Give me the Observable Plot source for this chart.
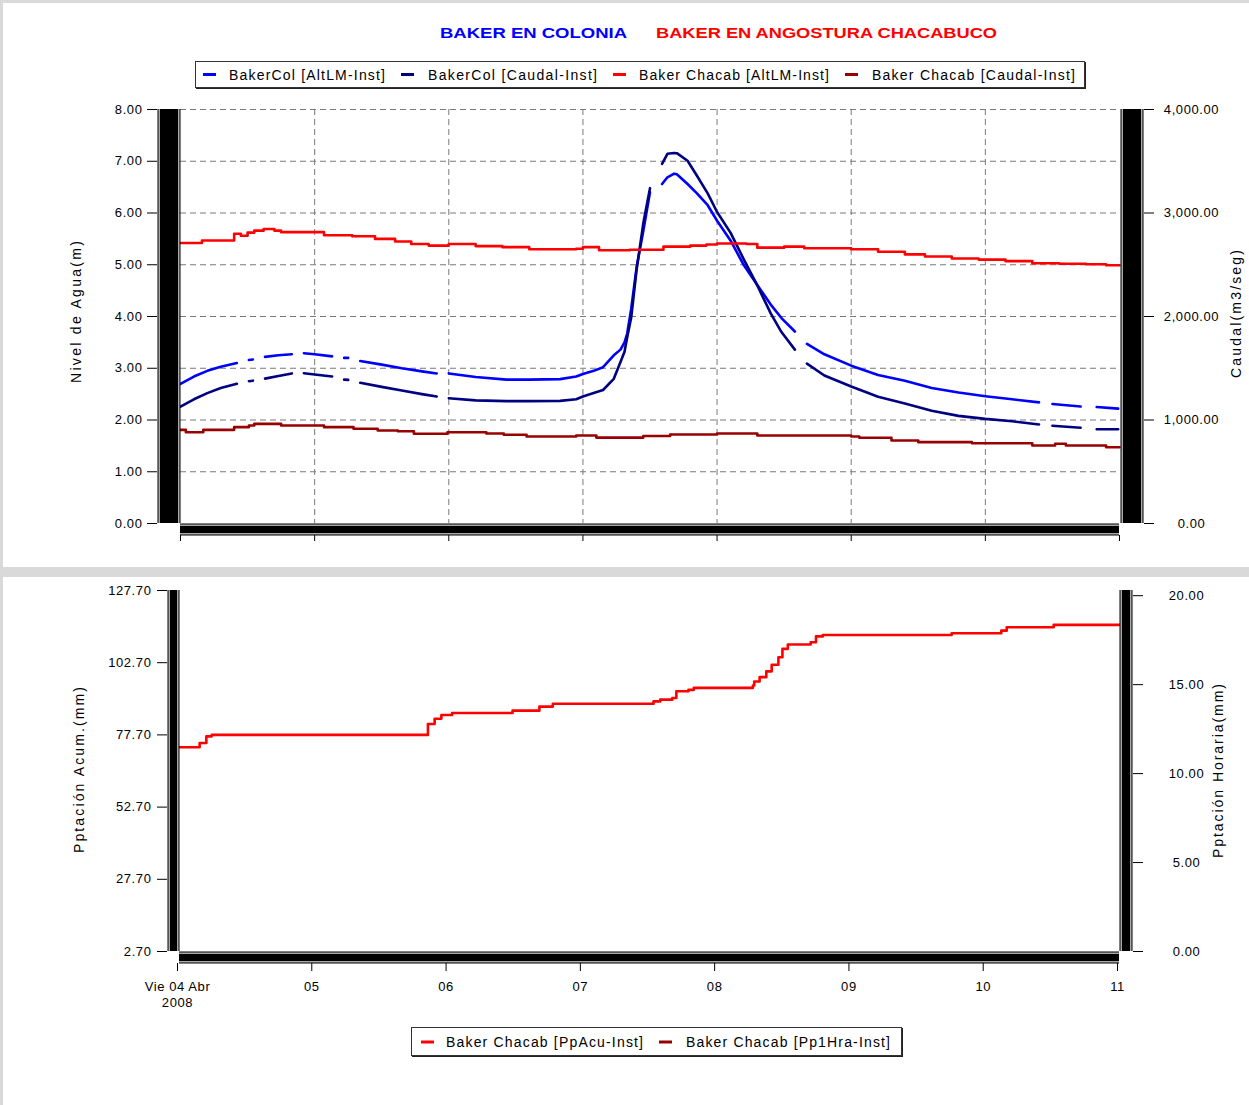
<!DOCTYPE html>
<html>
<head>
<meta charset="utf-8">
<script src="https://cdn.jsdelivr.net/npm/d3@7"></script>
<script src="https://cdn.jsdelivr.net/npm/@observablehq/plot@0.6"></script>
<style>
  body { margin: 0; background: #fff; }
  #page { position: relative; width: 1249px; height: 1105px; background: #fff; overflow: hidden; font-family: "Liberation Sans", Arial, sans-serif; }
  #topChart { position: absolute; left: 0; top: 0; }
  #botwrap { position: absolute; left: 0; top: 582px; width: 1249px; height: 445px; overflow: hidden; }
  #botChart { margin-top: -5px; }
  .band { position: absolute; background: #d9d9d9; }
  #overlay { position: absolute; left: 0; top: 0; pointer-events: none; }
</style>
</head>
<body>
<div id="page">
  <div id="topChart"></div>
  <div id="botwrap"><div id="botChart"></div></div>
  <div class="band" style="left:0;top:0;width:1249px;height:3px"></div>
  <div class="band" style="left:0;top:0;width:3px;height:1105px"></div>
  <div class="band" style="left:0;top:567px;width:1249px;height:10px"></div>
  <svg id="overlay" width="1249" height="1105"></svg>
</div>
<script>
// ---------- DATA (time in days since Vie 04 Abr 2008 00:00) ----------
const days = [0, 1, 2, 3, 4, 5, 6, 7];
const dayLabels = ["Vie 04 Abr\n2008", "05", "06", "07", "08", "09", "10", "11"];
const nivelTicks = [0, 1, 2, 3, 4, 5, 6, 7, 8];
const caudalTicks = [0, 1000, 2000, 3000, 4000];
const acuTicks = [2.7, 27.7, 52.7, 77.7, 102.7, 127.7];
const horaTicks = [0, 5, 10, 15, 20];

// BakerCol (null = missing data -> gap)
const colT = [0, 0.1, 0.2, 0.3, 0.42, 0.46, 0.51, 0.54, 0.58, 0.63, 0.73, 0.83, 0.87, 0.92, 1.0, 1.13, 1.17,
  1.22, 1.25, 1.29, 1.34, 1.5, 1.65, 1.8, 1.91, 1.95, 2.0, 2.2, 2.43, 2.6, 2.83, 2.95, 3.0, 3.08, 3.15, 3.23,
  3.28, 3.31, 3.33, 3.36, 3.40, 3.45, 3.50, 3.55, 3.59, 3.63, 3.68, 3.70, 3.78, 3.85, 3.93, 4.0, 4.1, 4.2,
  4.3, 4.4, 4.48, 4.58, 4.62, 4.67, 4.8, 5.0, 5.2, 5.4, 5.6, 5.8, 6.0, 6.2, 6.4, 6.45, 6.5, 6.71, 6.76, 6.83, 6.99];
const colNivel = [2.70, 2.84, 2.95, 3.03, 3.10, null, 3.16, 3.17, null, 3.22, 3.25, 3.27, null, 3.29, 3.27, 3.23, null,
  3.20, 3.20, null, 3.14, 3.07, 3.00, 2.94, 2.90, null, 2.90, 2.83, 2.78, 2.78, 2.79, 2.84, 2.89, 2.95, 3.02, 3.25,
  3.36, 3.50, 3.67, 4.15, 4.95, 5.65, 6.40, null, 6.56, 6.69, 6.76, 6.75, 6.56, 6.38, 6.15, 5.85, 5.47, 4.99,
  4.61, 4.23, 3.97, 3.71, null, 3.47, 3.27, 3.05, 2.87, 2.76, 2.62, 2.53, 2.46, 2.40, 2.34, null, 2.31, 2.26, null, 2.25, 2.22];
const colCaudal = [1130, 1200, 1260, 1310, 1350, null, 1375, 1380, null, 1400, 1425, 1450, null, 1452, 1440, 1420, null,
  1390, 1388, null, 1360, 1320, 1285, 1250, 1227, null, 1210, 1190, 1182, 1182, 1185, 1200, 1227, 1260, 1290, 1398,
  1560, 1660, 1800, 1990, 2450, 2900, 3240, null, 3475, 3572, 3580, 3578, 3505, 3360, 3190, 3010, 2810, 2550,
  2300, 2030, 1850, 1680, null, 1545, 1430, 1324, 1225, 1160, 1090, 1040, 1011, 988, 957, null, 944, 925, null, 911, 911];

// Baker Chacab
const chacNivT = [0, 0.16, 0.40, 0.45, 0.50, 0.55, 0.62, 0.70, 0.75, 1.07, 1.28, 1.45, 1.60, 1.72, 1.85, 2.0, 2.2, 2.4,
  2.6, 2.95, 3.0, 3.12, 3.35, 3.6, 3.8, 3.92, 4.0, 4.22, 4.3, 4.5, 4.65, 5.0, 5.2, 5.4, 5.55, 5.75, 5.95, 6.15,
  6.35, 6.55, 6.75, 6.9, 7.0];
const chacNivel = [5.42, 5.47, 5.60, 5.56, 5.62, 5.66, 5.69, 5.66, 5.63, 5.57, 5.55, 5.50, 5.45, 5.40, 5.37, 5.40, 5.36, 5.34,
  5.30, 5.31, 5.34, 5.28, 5.29, 5.35, 5.37, 5.39, 5.41, 5.40, 5.33, 5.35, 5.32, 5.30, 5.25, 5.20, 5.16, 5.12, 5.10, 5.07,
  5.03, 5.02, 5.01, 4.99, 4.99];
const chacCauT = [0, 0.04, 0.17, 0.40, 0.51, 0.55, 0.75, 1.07, 1.29, 1.47, 1.62, 1.74, 1.99, 2.28, 2.41, 2.58, 2.95, 3.1,
  3.45, 3.65, 4.0, 4.3, 5.0, 5.06, 5.3, 5.5, 5.9, 6.35, 6.52, 6.6, 6.9, 7.0];
const chacCaudal = [905, 882, 905, 931, 947, 963, 947, 931, 915, 899, 892, 867, 882, 870, 857, 841, 850, 830,
  845, 860, 870, 850, 841, 828, 802, 786, 776, 754, 770, 754, 737, 737];

// Precipitation (accumulated)
const ppT = [0, 0.15, 0.20, 0.24, 1.85, 1.90, 1.95, 2.03, 2.48, 2.68, 2.78, 3.53, 3.58, 3.67, 3.70, 3.79, 3.83, 4.27,
  4.28, 4.32, 4.37, 4.41, 4.46, 4.49, 4.53, 4.70, 4.74, 4.79, 5.75, 6.12, 6.16, 6.51, 7.0];
const ppAcu = [73.4, 74.9, 77.2, 77.7, 81.5, 83.3, 84.6, 85.3, 86.1, 87.5, 88.5, 89.3, 89.9, 90.5, 92.8, 93.3, 94.0, 94.8,
  96.2, 97.7, 99.7, 102.0, 104.6, 107.5, 109.0, 109.8, 111.8, 112.3, 112.9, 113.8, 115.0, 115.8, 115.8];

// ---------- tables ----------
const colTable = colT.map((t, i) => ({t, nivel: colNivel[i], caudal: colCaudal[i]}));
const chacNivTable = chacNivT.map((t, i) => ({t, v: chacNivel[i]}));
const chacCauTable = chacCauT.map((t, i) => ({t, v: chacCaudal[i]}));
const ppTable = ppT.map((t, i) => ({t, v: ppAcu[i]}));

const C_BLUE = "#0000ff", C_NAVY = "#000080", C_RED = "#ff0000", C_DRED = "#990000";
const Q = 500;               // caudal units per metre on the shared scale
const H = 6.16;              // acumulada units per horaria mm
const fmt2 = d3.format(".2f"), fmtC = d3.format(",.2f");
const baseStyle = {fontFamily: "'Liberation Sans', Arial, sans-serif", fontSize: "13px", letterSpacing: "0.6px", color: "#000", background: "transparent"};
const dash = "6,4";

function bar(axis, value, range, offset, w) {
  const mk = axis === "x" ? Plot.ruleX : Plot.ruleY;
  const key1 = axis === "x" ? "y1" : "x1", key2 = axis === "x" ? "y2" : "x2";
  const off = axis === "x" ? "dx" : "dy";
  return [
    mk([value], {[key1]: range[0], [key2]: range[1], [off]: offset, strokeWidth: w, stroke: "#000"}),
    mk([value], {[key1]: range[0], [key2]: range[1], [off]: offset, strokeWidth: w - 2, stroke: "#a8a8a8"}),
    mk([value], {[key1]: range[0], [key2]: range[1], [off]: offset, strokeWidth: w - 5, stroke: "#000"})
  ];
}

const topPlot = Plot.plot({
  width: 1249, height: 567,
  marginLeft: 180, marginRight: 130, marginTop: 109, marginBottom: 44,
  x: {domain: [0, 7]},
  y: {domain: [0, 8]},
  style: baseStyle,
  marks: [
    Plot.gridY({ticks: nivelTicks.slice(1), stroke: "#7a7a7a", strokeOpacity: 1, strokeDasharray: dash}),
    Plot.gridX({ticks: days.slice(1, 7), stroke: "#7a7a7a", strokeOpacity: 1, strokeDasharray: dash}),
    Plot.line(colTable, {x: "t", y: "nivel", stroke: C_BLUE, strokeWidth: 2.6}),
    Plot.line(colTable, {x: "t", y: d => d.caudal == null ? null : d.caudal / Q, stroke: C_NAVY, strokeWidth: 2.6}),
    Plot.line(chacNivTable, {x: "t", y: "v", stroke: C_RED, strokeWidth: 2.6, curve: "step-after"}),
    Plot.line(chacCauTable, {x: "t", y: d => d.v / Q, stroke: C_DRED, strokeWidth: 2.6, curve: "step-after"}),
    ...bar("x", 0, [0, 8], -11.5, 23),
    ...bar("x", 7, [0, 8], 12.5, 23),
    ...bar("y", 0, [0, 7], 6, 12),
    Plot.axisY({anchor: "left", ticks: nivelTicks, tickFormat: fmt2, tickSize: 10, dx: -23, tickPadding: 5, label: null}),
    Plot.axisY({anchor: "right", ticks: caudalTicks.map(c => c / Q), tickFormat: d => fmtC(d * Q), tickSize: 10, dx: 24, tickPadding: 38, textAnchor: "middle", label: null}),
    Plot.axisX({ticks: days, tickFormat: () => "", tickSize: 6, dy: 12, label: null})
  ]
});
document.getElementById("topChart").appendChild(topPlot);

const botPlot = Plot.plot({
  width: 1249, height: 440,
  marginLeft: 179, marginRight: 130, marginTop: 13, marginBottom: 66,
  x: {domain: [0, 7]},
  y: {domain: [2.7, 127.7]},
  style: baseStyle,
  marks: [
    Plot.line(ppTable, {x: "t", y: "v", stroke: C_RED, strokeWidth: 2.6, curve: "step-after"}),
    ...bar("x", 0, [2.7, 127.7], -6, 12),
    ...bar("x", 7, [2.7, 127.7], 6.5, 13),
    ...bar("y", 2.7, [0, 7], 6, 12),
    Plot.axisY({anchor: "left", ticks: acuTicks, tickFormat: fmt2, tickSize: 10, dx: -12, tickPadding: 6, label: null}),
    Plot.axisY({anchor: "right", ticks: horaTicks.map(h => 2.7 + h * H), tickFormat: d => fmt2((d - 2.7) / H), tickSize: 10, dx: 13, tickPadding: 44, textAnchor: "middle", label: null}),
    Plot.axisX({ticks: days, tickFormat: d => dayLabels[days.indexOf(d)], tickSize: 8, dy: 12, dx: -2, tickPadding: 7, lineHeight: 1.3, label: null})
  ]
});
document.getElementById("botChart").appendChild(botPlot);

// ---------- titles, legends, axis titles ----------
const ov = d3.select("#overlay").attr("font-family", "'Liberation Sans', Arial, sans-serif");
ov.append("text").attr("x", 440).attr("y", 38).attr("font-weight", "bold").attr("font-size", 15)
  .attr("fill", C_BLUE).attr("textLength", 187).attr("lengthAdjust", "spacingAndGlyphs").text("BAKER EN COLONIA");
ov.append("text").attr("x", 656).attr("y", 38).attr("font-weight", "bold").attr("font-size", 15)
  .attr("fill", C_RED).attr("textLength", 341).attr("lengthAdjust", "spacingAndGlyphs").text("BAKER EN ANGOSTURA CHACABUCO");

function legend(box, items, cy) {
  ov.append("rect").attr("x", box[0] + 1).attr("y", box[1] + 1).attr("width", box[2]).attr("height", box[3]).attr("fill", "#222");
  ov.append("rect").attr("x", box[0] + 0.5).attr("y", box[1] + 0.5).attr("width", box[2] - 1).attr("height", box[3] - 1)
    .attr("fill", "#fff").attr("stroke", "#333");
  for (const it of items) {
    ov.append("line").attr("x1", it.sx).attr("x2", it.sx + 13).attr("y1", cy).attr("y2", cy).attr("stroke", it.color).attr("stroke-width", 3);
    ov.append("text").attr("x", it.tx).attr("y", cy + 5).attr("font-size", 14).attr("fill", "#000")
      .attr("textLength", it.len).attr("lengthAdjust", "spacing").text(it.label);
  }
}
legend([195, 61, 890, 27], [
  {label: "BakerCol [AltLM-Inst]", color: C_BLUE, sx: 203, tx: 229, len: 156},
  {label: "BakerCol [Caudal-Inst]", color: C_NAVY, sx: 401, tx: 428, len: 169},
  {label: "Baker Chacab [AltLM-Inst]", color: C_RED, sx: 613, tx: 639, len: 190},
  {label: "Baker Chacab [Caudal-Inst]", color: C_DRED, sx: 845, tx: 872, len: 203}
], 74.5);
legend([411, 1027, 491, 29], [
  {label: "Baker Chacab [PpAcu-Inst]", color: C_RED, sx: 421, tx: 446, len: 197},
  {label: "Baker Chacab [Pp1Hra-Inst]", color: C_DRED, sx: 659, tx: 686, len: 204}
], 1042);

function vtitle(x, y, len, s) {
  ov.append("text").attr("transform", `translate(${x},${y}) rotate(-90)`).attr("text-anchor", "middle")
    .attr("dy", "0.35em").attr("font-size", 14).attr("fill", "#000")
    .attr("textLength", len).attr("lengthAdjust", "spacing").text(s);
}
vtitle(76, 312, 142, "Nivel de Agua(m)");
vtitle(1236, 314, 128, "Caudal(m3/seg)");
vtitle(79, 770, 166, "Pptación Acum.(mm)");
vtitle(1218, 771, 174, "Pptación Horaria(mm)");
</script>
</body>
</html>
